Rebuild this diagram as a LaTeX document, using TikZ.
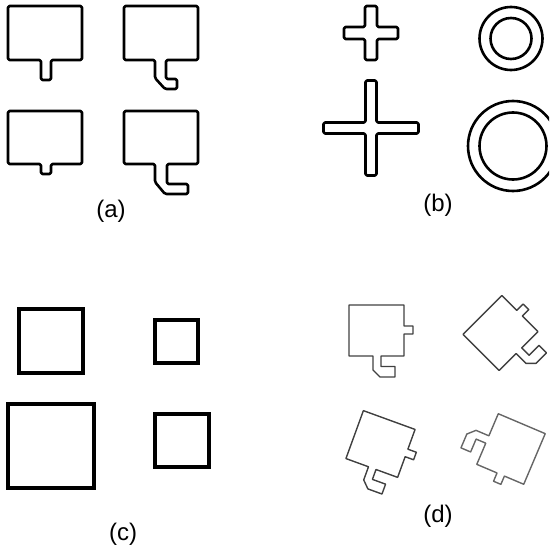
\documentclass[tikz,border=0pt]{standalone}
\usepackage{fontspec}
\setmainfont{Liberation Sans}
\begin{document}
\begin{tikzpicture}[x=1pt,y=-1pt,
  thick outline/.style={draw=black,line width=2.6pt,line join=round,rounded corners=1.5pt},
  sq outline/.style={draw=black,line width=3.2pt,line join=miter},
  thin outline/.style={draw=black!75,line width=1.4pt,line join=round},
  lbl/.style={font=\fontsize{24}{28}\selectfont,inner sep=0pt}]
\useasboundingbox (0,0) rectangle (549,551);
\clip (0,0) rectangle (549,551);
% ---------- (a)
\draw[thick outline] (8,6)--(82,6)--(82,60)--(51,60)--(51,80)--(41,80)--(41,60)--(8,60)--cycle;
\draw[thick outline] (8,111)--(82,111)--(82,164)--(51,164)--(51,174)--(41,174)--(41,164)--(8,164)--cycle;
\draw[thick outline] (124,6)--(198,6)--(198,60)--(166,60)--(166,79)--(177,79)--(177,89)--(165,89)--(155,78)--(155,60)--(124,60)--cycle;
\draw[thick outline] (124,111)--(198,111)--(198,164)--(167,164)--(167,184)--(188,184)--(188,194)--(165,194)--(155,182)--(155,164)--(124,164)--cycle;
\node[lbl] (la) at (111,211) {(a)};
% ---------- (b)
\newcommand{\plusshape}[4]{% cx cy L t
  \draw[thick outline] ({#1-#4},{#2-#3})--({#1+#4},{#2-#3})--({#1+#4},{#2-#4})--({#1+#3},{#2-#4})--({#1+#3},{#2+#4})--({#1+#4},{#2+#4})--({#1+#4},{#2+#3})--({#1-#4},{#2+#3})--({#1-#4},{#2+#4})--({#1-#3},{#2+#4})--({#1-#3},{#2-#4})--({#1-#4},{#2-#4})--cycle;}
\plusshape{371}{33}{27}{6}
\plusshape{371}{128}{47.5}{5.5}
\draw[black,line width=2.6pt] (511,38.5) circle (31.5);
\draw[black,line width=2.6pt] (511,38.5) circle (20.5);
\draw[black,line width=2.6pt] (513,146) circle (45);
\draw[black,line width=2.6pt] (513,146) circle (33.5);
\node[lbl] (lb) at (438,205) {(b)};
% ---------- (c)
\draw[sq outline] (19,309) rectangle (83,373);
\draw[sq outline] (155,320) rectangle (198,363);
\draw[sq outline] (8,404) rectangle (94,488);
\draw[sq outline] (155,414) rectangle (209,467);
\node[lbl] (lc) at (123,534) {(c)};
% ---------- (d)
\newcommand{\dshape}{%
  (-27.5,-25.5)--(27.5,-25.5)--(27.5,-4.5)--(36.5,-4.5)--(36.5,3.5)--(27.5,3.5)--(27.5,25.5)--(4.5,25.5)--(4.5,36)--(18.5,36)--(18.5,46.5)--(3.5,46.5)--(-3.5,39.5)--(-3.5,25.5)--(-27.5,25.5)--cycle}
\begin{scope}[shift={(376.5,330.5)}]
  \draw[thin outline] \dshape;
\end{scope}
\begin{scope}[shift={(500.5,333)},rotate=45]
  \draw[thin outline] \dshape;
\end{scope}
\begin{scope}[shift={(380.5,444)},rotate=-20]
  \draw[thin outline] \dshape;
\end{scope}
\begin{scope}[shift={(511,449)},rotate=-113]
  \draw[thin outline,draw=black!60] \dshape;
\end{scope}
\node[lbl] (ld) at (438,516) {(d)};
\end{tikzpicture}
\end{document}
